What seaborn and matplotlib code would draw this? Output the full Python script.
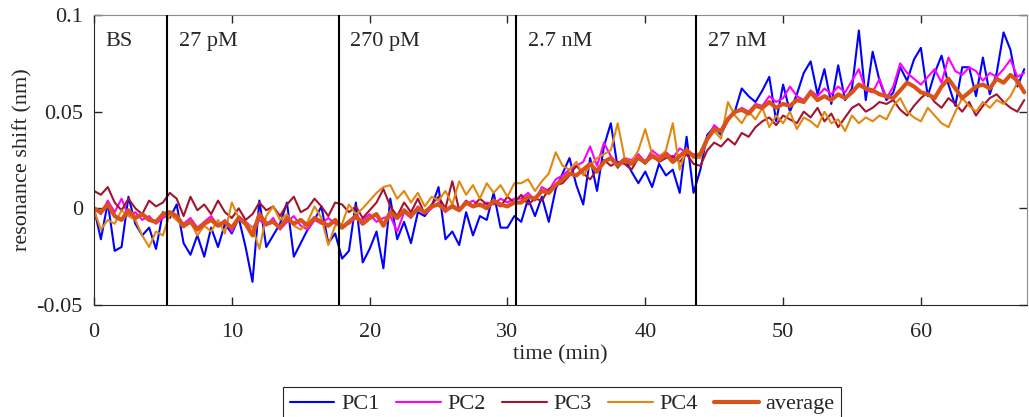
import numpy as np
import pandas as pd
import matplotlib
matplotlib.use("Agg")
import matplotlib.pyplot as plt
import seaborn as sns

# resonance shift, in units of 1e-3 nm, sampled every 0.5 min (0 ... 67.5 min)
# rows: BS | 27 pM | 270 pM | 2.7 nM | 27 nM
pc1 = [0, -16, 3, -22, -20, 6, -8, -14, -10, -21, -2,
       -5, 2, -18, -24, -14, -25, -10, -20, -8, -13, -5, -20, -38, 4, -20, -14, -8, 3, -25, -18, -11, -6, 1, -18, -13,
       -26, -22, 3, -28, -21, -12, -31, 5, -16, -7, -18, -2, -4, 1, 11, -16, -12, -19, -2, -14, -4, -6, 8, -10, -10, -4,
       -7, 5, -4, 6, -7, 10, 18, 26, 12, 2, 26, 9, 32, 44, 21, 26, 19, 13, 19, 11, 23, 17, 20, 8, 37, 8,
       20, 38, 42, 38, 46, 50, 62, 58, 55, 61, 68, 45, 64, 50, 59, 70, 76, 59, 72, 54, 74, 56, 62, 92, 56,
       81, 66, 56, 60, 73, 66, 77, 83, 58, 70, 79, 64, 53, 73, 73, 58, 78, 59, 70, 91, 82, 63, 72]
pc2 = [0, -3, 4, -2, 5, -4, -2, -6, -4, -8, -5,
       -3, -6, -8, -5, -10, -7, -4, -9, -6, -12, -4, -7, -10, -6, -9, -5, -11, -7, -4, -9, -11, -6, -8, -5, -8,
       -9, -8, -5, -6, -3, -7, -5, -4, -12, -2, -5, 1, -3, 0, 3, -2, 2, -1, 2, 4, 1, 3, 2, 5, 3, 5,
       5, 8, 4, 11, 9, 15, 17, 20, 22, 24, 32, 22, 34, 27, 23, 26, 25, 28, 24, 30, 27, 29, 26, 31, 29, 28,
       27, 36, 43, 40, 47, 49, 52, 50, 54, 53, 58, 55, 57, 63, 58, 56, 61, 58, 62, 59, 63, 60, 66, 72, 61,
       60, 67, 57, 63, 75, 70, 67, 64, 68, 72, 65, 78, 71, 69, 73, 71, 66, 70, 68, 72, 77, 68, 70]
pc3 = [9, 7, 11, 3, -1, 5, 0, -3, 4, 1, 3,
       8, 5, -4, 6, -1, 2, -3, 4, -2, -5, 0, -6, -3, 3, -1, 1, -4, 2, 6, -2, 0, 5, 1, -4, 3,
       2, -2, 1, -5, -1, 3, 10, 1, -4, 3, -2, 5, -3, 2, 6, 0, 14, -1, 4, 1, 5, 2, 3, 1, 6, 3,
       7, 2, 5, 4, 10, 12, 13, 17, 22, 18, 15, 20, 25, 22, 24, 23, 20, 26, 23, 28, 24, 26, 27, 24, 28, 23,
       22, 30, 34, 32, 36, 33, 39, 37, 42, 45, 47, 43, 48, 46, 44, 50, 47, 52, 45, 49, 42, 47, 52, 54, 50,
       52, 55, 54, 56, 51, 48, 53, 57, 60, 55, 52, 57, 54, 50, 55, 48, 53, 57, 59, 55, 52, 50, 56]
pc4 = [-1, -11, -6, -8, -1, -4, -6, -14, -20, -12, -14,
       -3, -6, -10, -7, -14, -9, -12, -6, -13, 3, -5, -8, -10, -21, -4, 1, -6, -3, -9, -11, -7, 1, -5, -19, -9,
       -8, 2, -3, 0, 4, 8, 11, 12, 5, 9, 3, 8, 1, 6, 4, 9, 2, 14, 7, 12, 5, 13, 8, 12, 6, 13,
       13, 15, 9, 14, 18, 29, 22, 20, 24, 17, 22, 26, 28, 30, 44, 26, 24, 30, 41, 28, 26, 30, 44, 20, 31, 26,
       26, 35, 40, 36, 55, 48, 44, 50, 46, 52, 42, 48, 44, 50, 41, 47, 45, 42, 50, 44, 46, 40, 48, 44, 47,
       45, 48, 46, 53, 57, 50, 47, 45, 52, 48, 44, 42, 50, 57, 53, 50, 55, 52, 56, 54, 58, 65, 60]
average = [0, -2, 2, -4, -6, -1, -5, -3, -6, -7, -3,
           -2, -4, -9, -7, -11, -8, -6, -9, -7, -10, -5, -8, -14, -3, -8, -7, -10, -5, -8, -6, -9, -5, -7, -9, -6,
           -10, -7, -4, -8, -5, -3, -9, -2, -5, -1, -4, 0, -2, 1, 2, -1, 1, -1, 3, 1, 2, 0, 4, 2, 1, 3,
           3, 6, 5, 9, 8, 12, 15, 18, 17, 20, 23, 19, 24, 26, 22, 25, 23, 26, 24, 27, 25, 28, 24, 27, 30, 27,
           28, 36, 41, 40, 46, 50, 51, 49, 53, 52, 55, 52, 54, 53, 56, 55, 60, 56, 58, 56, 59, 57, 60, 64, 62,
           61, 59, 58, 57, 61, 65, 63, 60, 59, 57, 63, 67, 62, 57, 60, 63, 64, 62, 67, 65, 69, 66, 60]

step_min = 0.5
# concentration steps: label and injection time (min)
steps = ["BS", "27 pM", "270 pM", "2.7 nM", "27 nM"]
injections = [5.33, 17.76, 30.64, 43.68]

series_names = ["PC1", "PC2", "PC3", "PC4", "average"]
colors = ["#0000FF", "#FF00FF", "#A2142F", "#E2870F", "#D95319"]
widths = [1.5, 1.5, 1.5, 1.5, 3.0]

y_ticks = [-0.05, 0, 0.05, 0.1]
y_ticklabels = ["-0.05", "0", "0.05", "0.1"]
x_ticks = [0, 10, 20, 30, 40, 50, 60]

# %%
all_vals = [pc1, pc2, pc3, pc4, average]
time = np.arange(len(pc1)) * step_min
frames = []
for name, vals in zip(series_names, all_vals):
    assert len(vals) == len(pc1), (name, len(vals))
    frames.append(pd.DataFrame({"time": time, "shift": np.array(vals) * 1e-3, "series": name}))
df = pd.concat(frames, ignore_index=True)

sns.set_style("ticks")
plt.rcParams["font.family"] = ["Liberation Serif", "DejaVu Serif"]
plt.rcParams["font.size"] = 16

fig = plt.figure(figsize=(10.29, 4.17), dpi=100)
ax = fig.add_axes([94 / 1029, 1 - 305 / 417, 933 / 1029, 290 / 417])

sns.lineplot(data=df, x="time", y="shift", hue="series", size="series",
             hue_order=series_names, size_order=series_names,
             palette=dict(zip(series_names, colors)),
             sizes=dict(zip(series_names, widths)),
             estimator=None, ax=ax)

for xv in injections:
    ax.axvline(xv, color="black", lw=1.5, zorder=5)
for xv, lab in zip([0] + injections, steps):
    ax.text(xv + 0.85, 0.084, lab, fontsize=16, va="baseline", ha="left")

ax.set_xlim(0, 67.7)
ax.set_ylim(-0.05, 0.1)
ax.set_xticks(x_ticks)
ax.set_yticks(y_ticks)
ax.set_yticklabels(y_ticklabels)
ax.tick_params(direction="in", length=6, width=1, top=True, right=True,
               labelsize=16, color="#262626")
ax.tick_params(axis="x", pad=13)
ax.tick_params(axis="y", pad=8)
for side in ["left", "bottom"]:
    ax.spines[side].set_color("#262626")
for side in ["top", "right"]:
    ax.spines[side].set_color("#8c8c8c")
ax.set_xlabel("time (min)", fontsize=16, labelpad=2)
ax.set_ylabel("resonance shift (nm)", fontsize=16, labelpad=3)

sns.move_legend(ax, "upper center", bbox_to_anchor=(0.502, -0.245), ncol=5, title=None,
                frameon=True, fancybox=False, edgecolor="#262626", framealpha=1,
                fontsize=16, handlelength=2.0, handletextpad=0.3, columnspacing=0.75,
                borderpad=0.3)
ax.get_legend().get_frame().set_linewidth(0.8)

fig.savefig("out.png", dpi=100)
